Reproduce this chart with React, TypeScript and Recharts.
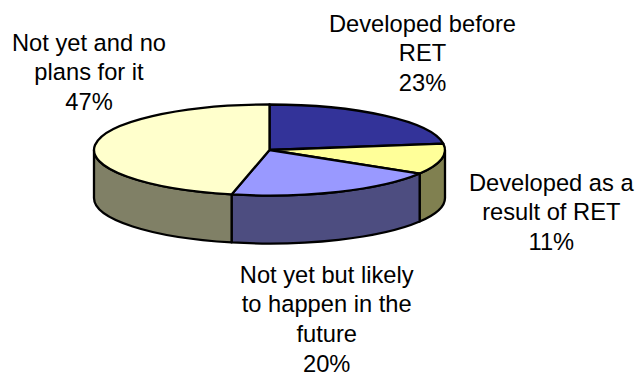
import React from "react";
import { PieChart, Pie, Cell } from "recharts";

const categories = [
  "Developed before RET",
  "Developed as a result of RET",
  "Not yet but likely to happen in the future",
  "Not yet and no plans for it",
];
const shares = [23, 11, 20, 47];
const labelLines = [
  ["Developed before", "RET", "23%"],
  ["Developed as a", "result of RET", "11%"],
  ["Not yet but likely", "to happen in the", "future", "20%"],
  ["Not yet and no", "plans for it", "47%"],
];
const topColors = ["#333399", "#FFFF99", "#9999FF", "#FFFFCC"];
const wallColors = ["#1A1A4D", "#808050", "#4D4D80", "#808066"];

const pieData = categories.map((name, i) => ({ name, value: shares[i] }));

// label block anchors: centre x and first baseline y
const labelAnchors = [
  { x: 422.5, y: 31.7 },
  { x: 551.3, y: 190.7 },
  { x: 326.7, y: 282.5 },
  { x: 89, y: 50.7 },
];

const WIDTH = 638;
const HEIGHT = 372;
const CX = 269.5;
const CY = 150;
const RADIUS = 175.5;
const TILT = 45.5 / 175.5;
const DEPTH = 48;
const LINE_HEIGHT = 29.7;
const FONT_SIZE = 23.7;
const OUTLINE = "#000";
const OUTLINE_WIDTH = 2.3;

const RAD = Math.PI / 180;

// point on the tilted rim for a recharts angle (counter-clockwise from 3 o'clock)
const rim = (cx: number, cy: number, r: number, deg: number) => ({
  x: cx + r * Math.cos(deg * RAD),
  y: cy - r * TILT * Math.sin(deg * RAD),
});

function TiltedSector(props: any) {
  const { cx, cy, outerRadius: r, startAngle, endAngle, index } = props;
  const ry = r * TILT;
  const a = rim(cx, cy, r, startAngle);
  const b = rim(cx, cy, r, endAngle);
  const large = Math.abs(startAngle - endAngle) > 180 ? 1 : 0;
  const top = `M${cx},${cy} L${a.x},${a.y} A${r},${ry} 0 ${large} 1 ${b.x},${b.y} Z`;

  // the side wall only shows along the front half of the rim (180..360 deg)
  const norm = (d: number) => ((d % 360) + 360) % 360;
  let s = norm(startAngle);
  let e = norm(endAngle);
  if (e === 0) e = 360;
  if (s < e) s += 360;
  // walk clockwise from s down to e, keeping to the front half
  const wallFrom = Math.min(s, 360);
  const wallTo = Math.max(e, 180);
  let wall = null;
  if (wallFrom > wallTo) {
    const p = rim(cx, cy, r, wallFrom);
    const q = rim(cx, cy, r, wallTo);
    wall = (
      <path
        d={`M${p.x},${p.y} A${r},${ry} 0 0 1 ${q.x},${q.y} L${q.x},${q.y + DEPTH} A${r},${ry} 0 0 0 ${p.x},${p.y + DEPTH} Z`}
        fill={wallColors[index]}
        stroke={OUTLINE}
        strokeWidth={OUTLINE_WIDTH}
        strokeLinejoin="round"
      />
    );
  }
  return (
    <g>
      {wall}
      <path d={top} fill={topColors[index]} stroke={OUTLINE} strokeWidth={OUTLINE_WIDTH} strokeLinejoin="round" />
    </g>
  );
}

function SliceLabel(props: any) {
  const lines = labelLines[props.index];
  const { x, y } = labelAnchors[props.index];
  return (
    <text x={x} y={y} textAnchor="middle" fontFamily="Liberation Sans, Arial, sans-serif" fontSize={FONT_SIZE} fill="#000">
      {lines.map((line, i) => (
        <tspan key={line} x={x} y={y + i * LINE_HEIGHT}>
          {line}
        </tspan>
      ))}
    </text>
  );
}

export default function App() {
  return (
    <div style={{ position: "absolute", left: 0, top: 0, width: WIDTH, height: HEIGHT, background: "#fff" }}>
      <PieChart width={WIDTH} height={HEIGHT} margin={{ top: 0, right: 0, bottom: 0, left: 0 }}>
        <Pie
          data={pieData}
          dataKey="value"
          nameKey="name"
          cx={CX}
          cy={CY}
          innerRadius={0}
          outerRadius={RADIUS}
          startAngle={90}
          endAngle={-270}
          paddingAngle={0}
          stroke="none"
          isAnimationActive={false}
          shape={TiltedSector}
          label={SliceLabel}
          labelLine={false}
        >
          {pieData.map((d, i) => (
            <Cell key={d.name} fill={topColors[i]} />
          ))}
        </Pie>
      </PieChart>
    </div>
  );
}
